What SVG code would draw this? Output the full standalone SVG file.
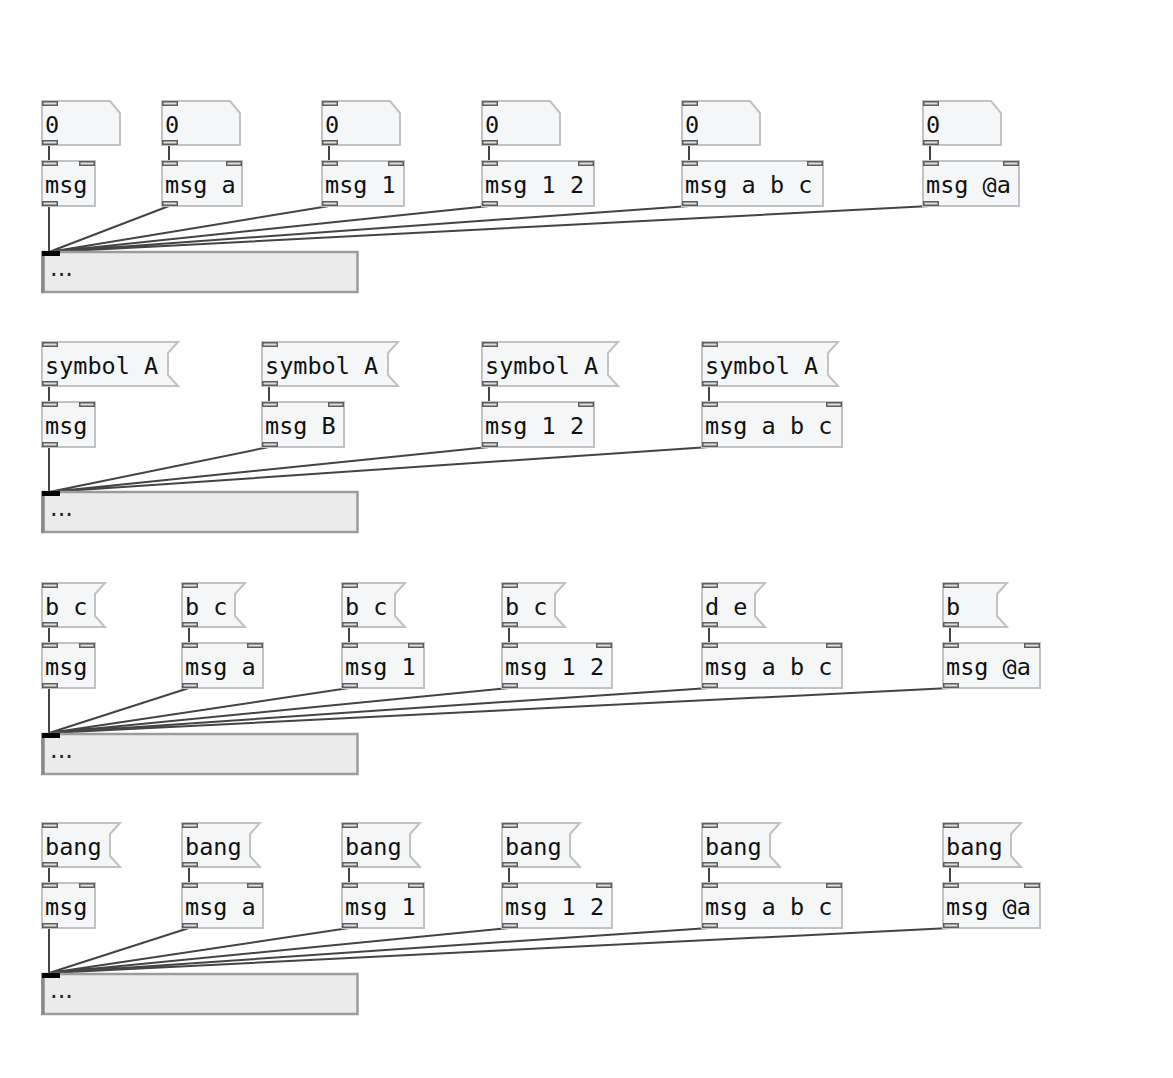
<svg xmlns="http://www.w3.org/2000/svg" width="1173" height="1078" viewBox="0 0 1173 1078">
<style>
.bx{fill:#f5f6f8;stroke:#c2c2c2;stroke-width:2}
.io{fill:#dedede;stroke:#5e5e5e;stroke-width:1.5}
.t{font-family:"DejaVu Sans Mono","Liberation Mono",monospace;font-size:23.5px;fill:#111}
.cn{stroke:#444;stroke-width:2;fill:none}
.pr{fill:#ebebeb;stroke:#9c9c9c;stroke-width:2.5}
.pl{stroke:#8a8a8a;stroke-width:3.5}
.pi{fill:#000}
.dots{font-family:"DejaVu Sans",sans-serif;font-size:24px;fill:#222}
</style>
<rect width="1173" height="1078" fill="#fff"/>
<g id="connectors">
<path class="cn" d="M49 145V161M169 145V161M329 145V161M489 145V161M689 145V161M930 145V161"/>
<path class="cn" d="M49 206L49 252M169 206L49 252M329 206L49 252M489 206L49 252M689 206L49 252M930 206L49 252"/>
<path class="cn" d="M49 386V402M269 386V402M489 386V402M709 386V402"/>
<path class="cn" d="M49 447L49 492M269 447L49 492M489 447L49 492M709 447L49 492"/>
<path class="cn" d="M49 627V643M189 627V643M349 627V643M509 627V643M709 627V643M950 627V643"/>
<path class="cn" d="M49 688L49 733M189 688L49 733M349 688L49 733M509 688L49 733M709 688L49 733M950 688L49 733"/>
<path class="cn" d="M49 867V883M189 867V883M349 867V883M509 867V883M709 867V883M950 867V883"/>
<path class="cn" d="M49 928L49 973M189 928L49 973M349 928L49 973M509 928L49 973M709 928L49 973M950 928L49 973"/>
</g>

<!-- Row 1 -->
<g id="num1a"><path class="bx" d="M42 101H110L120 113V145H42Z"/><rect class="io" x="42.75" y="101.75" width="14.5" height="3.5"/><rect class="io" x="42.75" y="140.75" width="14.5" height="3.5"/><text class="t" x="45" y="133">0</text></g>
<g id="num1b"><path class="bx" d="M162 101H230L240 113V145H162Z"/><rect class="io" x="162.75" y="101.75" width="14.5" height="3.5"/><rect class="io" x="162.75" y="140.75" width="14.5" height="3.5"/><text class="t" x="165" y="133">0</text></g>
<g id="num1c"><path class="bx" d="M322 101H390L400 113V145H322Z"/><rect class="io" x="322.75" y="101.75" width="14.5" height="3.5"/><rect class="io" x="322.75" y="140.75" width="14.5" height="3.5"/><text class="t" x="325" y="133">0</text></g>
<g id="num1d"><path class="bx" d="M482 101H550L560 113V145H482Z"/><rect class="io" x="482.75" y="101.75" width="14.5" height="3.5"/><rect class="io" x="482.75" y="140.75" width="14.5" height="3.5"/><text class="t" x="485" y="133">0</text></g>
<g id="num1e"><path class="bx" d="M682 101H750L760 113V145H682Z"/><rect class="io" x="682.75" y="101.75" width="14.5" height="3.5"/><rect class="io" x="682.75" y="140.75" width="14.5" height="3.5"/><text class="t" x="685" y="133">0</text></g>
<g id="num1f"><path class="bx" d="M923 101H991L1001 113V145H923Z"/><rect class="io" x="923.75" y="101.75" width="14.5" height="3.5"/><rect class="io" x="923.75" y="140.75" width="14.5" height="3.5"/><text class="t" x="926" y="133">0</text></g>

<g id="obj1a"><rect class="bx" x="42" y="161" width="53" height="45"/><rect class="io" x="42.75" y="161.75" width="14.5" height="3.5"/><rect class="io" x="79.75" y="161.75" width="14.5" height="3.5"/><rect class="io" x="42.75" y="201.75" width="14.5" height="3.5"/><text class="t" x="45" y="193">msg</text></g>
<g id="obj1b"><rect class="bx" x="162" y="161" width="80" height="45"/><rect class="io" x="162.75" y="161.75" width="14.5" height="3.5"/><rect class="io" x="226.75" y="161.75" width="14.5" height="3.5"/><rect class="io" x="162.75" y="201.75" width="14.5" height="3.5"/><text class="t" x="165" y="193">msg a</text></g>
<g id="obj1c"><rect class="bx" x="322" y="161" width="82" height="45"/><rect class="io" x="322.75" y="161.75" width="14.5" height="3.5"/><rect class="io" x="388.75" y="161.75" width="14.5" height="3.5"/><rect class="io" x="322.75" y="201.75" width="14.5" height="3.5"/><text class="t" x="325" y="193">msg 1</text></g>
<g id="obj1d"><rect class="bx" x="482" y="161" width="112" height="45"/><rect class="io" x="482.75" y="161.75" width="14.5" height="3.5"/><rect class="io" x="578.75" y="161.75" width="14.5" height="3.5"/><rect class="io" x="482.75" y="201.75" width="14.5" height="3.5"/><text class="t" x="485" y="193">msg 1 2</text></g>
<g id="obj1e"><rect class="bx" x="682" y="161" width="141" height="45"/><rect class="io" x="682.75" y="161.75" width="14.5" height="3.5"/><rect class="io" x="807.75" y="161.75" width="14.5" height="3.5"/><rect class="io" x="682.75" y="201.75" width="14.5" height="3.5"/><text class="t" x="685" y="193">msg a b c</text></g>
<g id="obj1f"><rect class="bx" x="923" y="161" width="96" height="45"/><rect class="io" x="923.75" y="161.75" width="14.5" height="3.5"/><rect class="io" x="1003.75" y="161.75" width="14.5" height="3.5"/><rect class="io" x="923.75" y="201.75" width="14.5" height="3.5"/><text class="t" x="926" y="193">msg @a</text></g>

<g id="print1"><rect class="pr" x="42.5" y="252" width="315" height="40"/><path class="pl" d="M43 251V293"/><rect class="pi" x="42" y="251" width="18" height="5"/><text class="dots" x="50" y="276">...</text></g>

<!-- Row 2 -->
<g id="sym2a"><path class="bx" d="M42 342H178L168 353V375L178 386H42Z"/><rect class="io" x="42.75" y="342.75" width="14.5" height="3.5"/><rect class="io" x="42.75" y="381.75" width="14.5" height="3.5"/><text class="t" x="45" y="374">symbol A</text></g>
<g id="sym2b"><path class="bx" d="M262 342H398L388 353V375L398 386H262Z"/><rect class="io" x="262.75" y="342.75" width="14.5" height="3.5"/><rect class="io" x="262.75" y="381.75" width="14.5" height="3.5"/><text class="t" x="265" y="374">symbol A</text></g>
<g id="sym2c"><path class="bx" d="M482 342H618L608 353V375L618 386H482Z"/><rect class="io" x="482.75" y="342.75" width="14.5" height="3.5"/><rect class="io" x="482.75" y="381.75" width="14.5" height="3.5"/><text class="t" x="485" y="374">symbol A</text></g>
<g id="sym2d"><path class="bx" d="M702 342H838L828 353V375L838 386H702Z"/><rect class="io" x="702.75" y="342.75" width="14.5" height="3.5"/><rect class="io" x="702.75" y="381.75" width="14.5" height="3.5"/><text class="t" x="705" y="374">symbol A</text></g>

<g id="obj2a"><rect class="bx" x="42" y="402" width="53" height="45"/><rect class="io" x="42.75" y="402.75" width="14.5" height="3.5"/><rect class="io" x="79.75" y="402.75" width="14.5" height="3.5"/><rect class="io" x="42.75" y="442.75" width="14.5" height="3.5"/><text class="t" x="45" y="434">msg</text></g>
<g id="obj2b"><rect class="bx" x="262" y="402" width="82" height="45"/><rect class="io" x="262.75" y="402.75" width="14.5" height="3.5"/><rect class="io" x="328.75" y="402.75" width="14.5" height="3.5"/><rect class="io" x="262.75" y="442.75" width="14.5" height="3.5"/><text class="t" x="265" y="434">msg B</text></g>
<g id="obj2c"><rect class="bx" x="482" y="402" width="112" height="45"/><rect class="io" x="482.75" y="402.75" width="14.5" height="3.5"/><rect class="io" x="578.75" y="402.75" width="14.5" height="3.5"/><rect class="io" x="482.75" y="442.75" width="14.5" height="3.5"/><text class="t" x="485" y="434">msg 1 2</text></g>
<g id="obj2d"><rect class="bx" x="702" y="402" width="140" height="45"/><rect class="io" x="702.75" y="402.75" width="14.5" height="3.5"/><rect class="io" x="826.75" y="402.75" width="14.5" height="3.5"/><rect class="io" x="702.75" y="442.75" width="14.5" height="3.5"/><text class="t" x="705" y="434">msg a b c</text></g>

<g id="print2"><rect class="pr" x="42.5" y="492" width="315" height="40"/><path class="pl" d="M43 491V533"/><rect class="pi" x="42" y="491" width="18" height="5"/><text class="dots" x="50" y="516">...</text></g>

<!-- Row 3 -->
<g id="msg3a"><path class="bx" d="M42 583H105L95 594V616L105 627H42Z"/><rect class="io" x="42.75" y="583.75" width="14.5" height="3.5"/><rect class="io" x="42.75" y="622.75" width="14.5" height="3.5"/><text class="t" x="45" y="615">b c</text></g>
<g id="msg3b"><path class="bx" d="M182 583H245L235 594V616L245 627H182Z"/><rect class="io" x="182.75" y="583.75" width="14.5" height="3.5"/><rect class="io" x="182.75" y="622.75" width="14.5" height="3.5"/><text class="t" x="185" y="615">b c</text></g>
<g id="msg3c"><path class="bx" d="M342 583H405L395 594V616L405 627H342Z"/><rect class="io" x="342.75" y="583.75" width="14.5" height="3.5"/><rect class="io" x="342.75" y="622.75" width="14.5" height="3.5"/><text class="t" x="345" y="615">b c</text></g>
<g id="msg3d"><path class="bx" d="M502 583H565L555 594V616L565 627H502Z"/><rect class="io" x="502.75" y="583.75" width="14.5" height="3.5"/><rect class="io" x="502.75" y="622.75" width="14.5" height="3.5"/><text class="t" x="505" y="615">b c</text></g>
<g id="msg3e"><path class="bx" d="M702 583H765L755 594V616L765 627H702Z"/><rect class="io" x="702.75" y="583.75" width="14.5" height="3.5"/><rect class="io" x="702.75" y="622.75" width="14.5" height="3.5"/><text class="t" x="705" y="615">d e</text></g>
<g id="msg3f"><path class="bx" d="M943 583H1007L997 594V616L1007 627H943Z"/><rect class="io" x="943.75" y="583.75" width="14.5" height="3.5"/><rect class="io" x="943.75" y="622.75" width="14.5" height="3.5"/><text class="t" x="946" y="615">b</text></g>

<g id="obj3a"><rect class="bx" x="42" y="643" width="53" height="45"/><rect class="io" x="42.75" y="643.75" width="14.5" height="3.5"/><rect class="io" x="79.75" y="643.75" width="14.5" height="3.5"/><rect class="io" x="42.75" y="683.75" width="14.5" height="3.5"/><text class="t" x="45" y="675">msg</text></g>
<g id="obj3b"><rect class="bx" x="182" y="643" width="81" height="45"/><rect class="io" x="182.75" y="643.75" width="14.5" height="3.5"/><rect class="io" x="247.75" y="643.75" width="14.5" height="3.5"/><rect class="io" x="182.75" y="683.75" width="14.5" height="3.5"/><text class="t" x="185" y="675">msg a</text></g>
<g id="obj3c"><rect class="bx" x="342" y="643" width="82" height="45"/><rect class="io" x="342.75" y="643.75" width="14.5" height="3.5"/><rect class="io" x="408.75" y="643.75" width="14.5" height="3.5"/><rect class="io" x="342.75" y="683.75" width="14.5" height="3.5"/><text class="t" x="345" y="675">msg 1</text></g>
<g id="obj3d"><rect class="bx" x="502" y="643" width="110" height="45"/><rect class="io" x="502.75" y="643.75" width="14.5" height="3.5"/><rect class="io" x="596.75" y="643.75" width="14.5" height="3.5"/><rect class="io" x="502.75" y="683.75" width="14.5" height="3.5"/><text class="t" x="505" y="675">msg 1 2</text></g>
<g id="obj3e"><rect class="bx" x="702" y="643" width="140" height="45"/><rect class="io" x="702.75" y="643.75" width="14.5" height="3.5"/><rect class="io" x="826.75" y="643.75" width="14.5" height="3.5"/><rect class="io" x="702.75" y="683.75" width="14.5" height="3.5"/><text class="t" x="705" y="675">msg a b c</text></g>
<g id="obj3f"><rect class="bx" x="943" y="643" width="97" height="45"/><rect class="io" x="943.75" y="643.75" width="14.5" height="3.5"/><rect class="io" x="1024.75" y="643.75" width="14.5" height="3.5"/><rect class="io" x="943.75" y="683.75" width="14.5" height="3.5"/><text class="t" x="946" y="675">msg @a</text></g>

<g id="print3"><rect class="pr" x="42.5" y="734" width="315" height="40"/><path class="pl" d="M43 733V775"/><rect class="pi" x="42" y="733" width="18" height="5"/><text class="dots" x="50" y="758">...</text></g>

<!-- Row 4 -->
<g id="bang4a"><path class="bx" d="M42 823H120L110 834V856L120 867H42Z"/><rect class="io" x="42.75" y="823.75" width="14.5" height="3.5"/><rect class="io" x="42.75" y="862.75" width="14.5" height="3.5"/><text class="t" x="45" y="855">bang</text></g>
<g id="bang4b"><path class="bx" d="M182 823H260L250 834V856L260 867H182Z"/><rect class="io" x="182.75" y="823.75" width="14.5" height="3.5"/><rect class="io" x="182.75" y="862.75" width="14.5" height="3.5"/><text class="t" x="185" y="855">bang</text></g>
<g id="bang4c"><path class="bx" d="M342 823H420L410 834V856L420 867H342Z"/><rect class="io" x="342.75" y="823.75" width="14.5" height="3.5"/><rect class="io" x="342.75" y="862.75" width="14.5" height="3.5"/><text class="t" x="345" y="855">bang</text></g>
<g id="bang4d"><path class="bx" d="M502 823H580L570 834V856L580 867H502Z"/><rect class="io" x="502.75" y="823.75" width="14.5" height="3.5"/><rect class="io" x="502.75" y="862.75" width="14.5" height="3.5"/><text class="t" x="505" y="855">bang</text></g>
<g id="bang4e"><path class="bx" d="M702 823H780L770 834V856L780 867H702Z"/><rect class="io" x="702.75" y="823.75" width="14.5" height="3.5"/><rect class="io" x="702.75" y="862.75" width="14.5" height="3.5"/><text class="t" x="705" y="855">bang</text></g>
<g id="bang4f"><path class="bx" d="M943 823H1021L1011 834V856L1021 867H943Z"/><rect class="io" x="943.75" y="823.75" width="14.5" height="3.5"/><rect class="io" x="943.75" y="862.75" width="14.5" height="3.5"/><text class="t" x="946" y="855">bang</text></g>

<g id="obj4a"><rect class="bx" x="42" y="883" width="53" height="45"/><rect class="io" x="42.75" y="883.75" width="14.5" height="3.5"/><rect class="io" x="79.75" y="883.75" width="14.5" height="3.5"/><rect class="io" x="42.75" y="923.75" width="14.5" height="3.5"/><text class="t" x="45" y="915">msg</text></g>
<g id="obj4b"><rect class="bx" x="182" y="883" width="81" height="45"/><rect class="io" x="182.75" y="883.75" width="14.5" height="3.5"/><rect class="io" x="247.75" y="883.75" width="14.5" height="3.5"/><rect class="io" x="182.75" y="923.75" width="14.5" height="3.5"/><text class="t" x="185" y="915">msg a</text></g>
<g id="obj4c"><rect class="bx" x="342" y="883" width="82" height="45"/><rect class="io" x="342.75" y="883.75" width="14.5" height="3.5"/><rect class="io" x="408.75" y="883.75" width="14.5" height="3.5"/><rect class="io" x="342.75" y="923.75" width="14.5" height="3.5"/><text class="t" x="345" y="915">msg 1</text></g>
<g id="obj4d"><rect class="bx" x="502" y="883" width="110" height="45"/><rect class="io" x="502.75" y="883.75" width="14.5" height="3.5"/><rect class="io" x="596.75" y="883.75" width="14.5" height="3.5"/><rect class="io" x="502.75" y="923.75" width="14.5" height="3.5"/><text class="t" x="505" y="915">msg 1 2</text></g>
<g id="obj4e"><rect class="bx" x="702" y="883" width="140" height="45"/><rect class="io" x="702.75" y="883.75" width="14.5" height="3.5"/><rect class="io" x="826.75" y="883.75" width="14.5" height="3.5"/><rect class="io" x="702.75" y="923.75" width="14.5" height="3.5"/><text class="t" x="705" y="915">msg a b c</text></g>
<g id="obj4f"><rect class="bx" x="943" y="883" width="97" height="45"/><rect class="io" x="943.75" y="883.75" width="14.5" height="3.5"/><rect class="io" x="1024.75" y="883.75" width="14.5" height="3.5"/><rect class="io" x="943.75" y="923.75" width="14.5" height="3.5"/><text class="t" x="946" y="915">msg @a</text></g>

<g id="print4"><rect class="pr" x="42.5" y="974" width="315" height="40"/><path class="pl" d="M43 973V1015"/><rect class="pi" x="42" y="973" width="18" height="5"/><text class="dots" x="50" y="998">...</text></g>
</svg>
